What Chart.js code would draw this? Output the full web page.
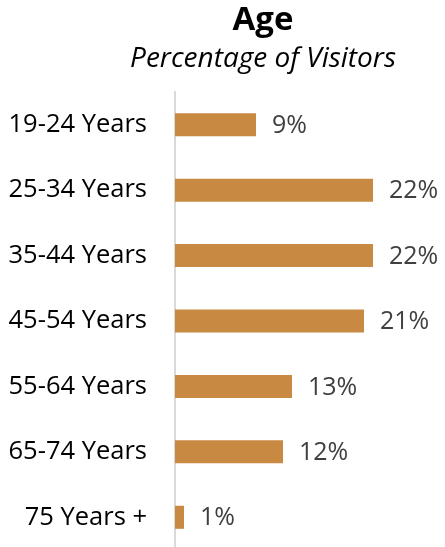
<!DOCTYPE html>
<html>
<head>
<meta charset="utf-8">
<script src="https://cdn.jsdelivr.net/npm/chart.js@4/dist/chart.umd.min.js"></script>
<style>
  html, body { margin: 0; padding: 0; background: #fff; overflow: hidden; }
  canvas { display: block; }
</style>
</head>
<body>
<canvas id="myChart" width="445" height="550"></canvas>
<script>
// 資料
var ageGroups = ['19-24 Years', '25-34 Years', '35-44 Years', '45-54 Years', '55-64 Years', '65-74 Years', '75 Years +'];
var visitorPct = [9, 22, 22, 21, 13, 12, 1];
var chartTitle = 'Age';
var chartSubtitle = 'Percentage of Visitors';

var FONT = '"Open Sans", sans-serif';

// 標題 (自己畫, 置中於 263px)
var titlePlugin = {
  id: 'titleText',
  afterDraw: function(chart){
    var ctx = chart.ctx;
    ctx.save();
    ctx.fillStyle = '#000';
    ctx.textAlign = 'center';
    ctx.textBaseline = 'alphabetic';
    ctx.font = 'bold 33px ' + FONT;
    ctx.fillText(chartTitle, 263, 30);
    ctx.font = 'italic 28px ' + FONT;
    ctx.fillText(chartSubtitle, 263, 67);
    ctx.restore();
  }
};

// 數值標籤
var valueLabels = {
  id: 'valueLabels',
  afterDatasetsDraw: function(chart){
    var ctx = chart.ctx;
    var meta = chart.getDatasetMeta(0);
    ctx.save();
    ctx.fillStyle = '#404040';
    ctx.font = '25px ' + FONT;
    ctx.textAlign = 'left';
    ctx.textBaseline = 'middle';
    meta.data.forEach(function(bar, i){
      ctx.fillText(visitorPct[i] + '%', bar.x + 16, bar.y + 1);
    });
    ctx.restore();
  }
};

new Chart(document.getElementById('myChart'), {
  type: 'bar',
  data: {
    labels: ageGroups,
    datasets: [{
      data: visitorPct,
      backgroundColor: '#C88942',
      borderWidth: 0,
      barPercentage: 0.352,
      categoryPercentage: 1
    }]
  },
  options: {
    indexAxis: 'y',
    responsive: false,
    animation: false,
    layout: { padding: { top: 92, left: 0, right: 0, bottom: 0 } },
    plugins: {
      legend: { display: false },
      tooltip: { enabled: false }
    },
    scales: {
      x: {
        display: false,
        min: 0,
        max: 30
      },
      y: {
        afterFit: function(scale){
          scale.width = 175;
          // 不要讓標籤 padding 吃掉下方空間
          scale.paddingTop = 0;
          scale.paddingBottom = 0;
        },
        grid: { display: false, drawTicks: false },
        border: { display: true, color: '#d9d9d9', width: 2 },
        ticks: {
          color: '#000',
          padding: 28,
          font: { family: FONT, size: 25.5 }
        }
      }
    }
  },
  plugins: [titlePlugin, valueLabels]
});
</script>
</body>
</html>
